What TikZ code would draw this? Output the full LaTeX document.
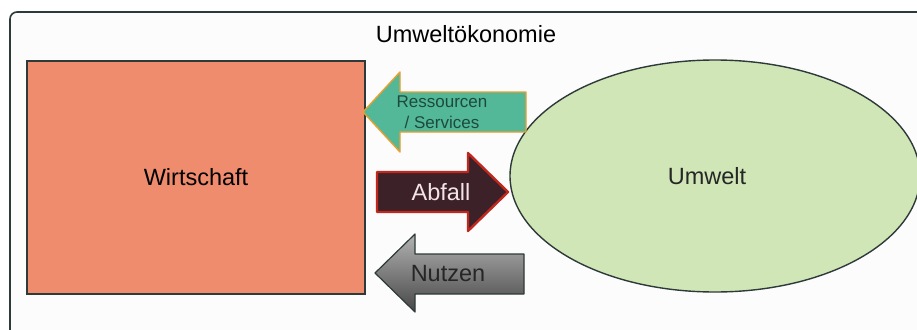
\documentclass[tikz,border=0pt]{standalone}
\usepackage{fontspec}
\setmainfont{Liberation Sans}
\usepackage{tikz}
\usetikzlibrary{shapes.geometric}
\definecolor{framec}{HTML}{2E3A3A}
\definecolor{salmon}{HTML}{F08C6E}
\definecolor{leaf}{HTML}{D0E6B6}
\definecolor{tealarr}{HTML}{52B898}
\definecolor{tealtxt}{HTML}{1E4A3E}
\definecolor{amber}{HTML}{E8A030}
\definecolor{waste}{HTML}{3C2228}
\definecolor{wasteline}{HTML}{C0281E}
\definecolor{wastetxt}{HTML}{F2E4E8}

\begin{document}
\begin{tikzpicture}[x=1pt,y=-1pt,
  lbl/.style={font=\fontsize{23.5}{28}\selectfont,inner sep=0pt},
  frame/.style={draw=framec,line width=1.6pt,rounded corners=7pt,fill=black!1},
  block/.style={draw=framec,line width=1.4pt,fill=salmon,minimum width=338pt,
                minimum height=233pt,font=\fontsize{23.5}{28}\selectfont},
  env/.style={ellipse,draw=framec,line width=1.4pt,fill=leaf,minimum width=410pt,
              minimum height=232pt},
  resarr/.style={draw=amber,line width=1.4pt,fill=tealarr,line join=round},
  abfarr/.style={draw=wasteline,line width=2.4pt,fill=waste,line join=round},
  nutzarr/.style={draw=framec,line width=1.2pt,top color=black!30,bottom color=black!72,
                  line join=round}
]
\useasboundingbox (0,0) rectangle (917,329);
\clip (0,0) rectangle (917,329);
\draw[frame] (10,12) rectangle (940,350);
\node[lbl,anchor=base] (title) at (466,43) {Umweltökonomie};
\node[block] (wirt) at (196,177.5) {Wirtschaft};
\node[env] (umw) at (715,176) {};
\node[lbl,text=black!85] (umwtxt) at (707,176) {Umwelt};
% Pfeile
\draw[resarr] (363,112) -- (400,72) -- (400,92) -- (526,92) -- (526,132)
  -- (400,132) -- (400,152) -- cycle;
\node[align=center,inner sep=0pt,text=tealtxt,font=\fontsize{17}{21}\selectfont]
  (res) at (442,112) {Ressourcen\\/ Services};
\draw[abfarr] (377,172) -- (468,172) -- (468,153) -- (508,192) -- (468,231)
  -- (468,212) -- (377,212) -- cycle;
\node[lbl,text=wastetxt] (abf) at (441,192) {Abfall};
\draw[nutzarr] (375,273) -- (415,234) -- (415,254) -- (524,254) -- (524,294)
  -- (415,294) -- (415,312) -- cycle;
\node[lbl,text=black!85] (nutz) at (448,274) {Nutzen};
\end{tikzpicture}
\end{document}
